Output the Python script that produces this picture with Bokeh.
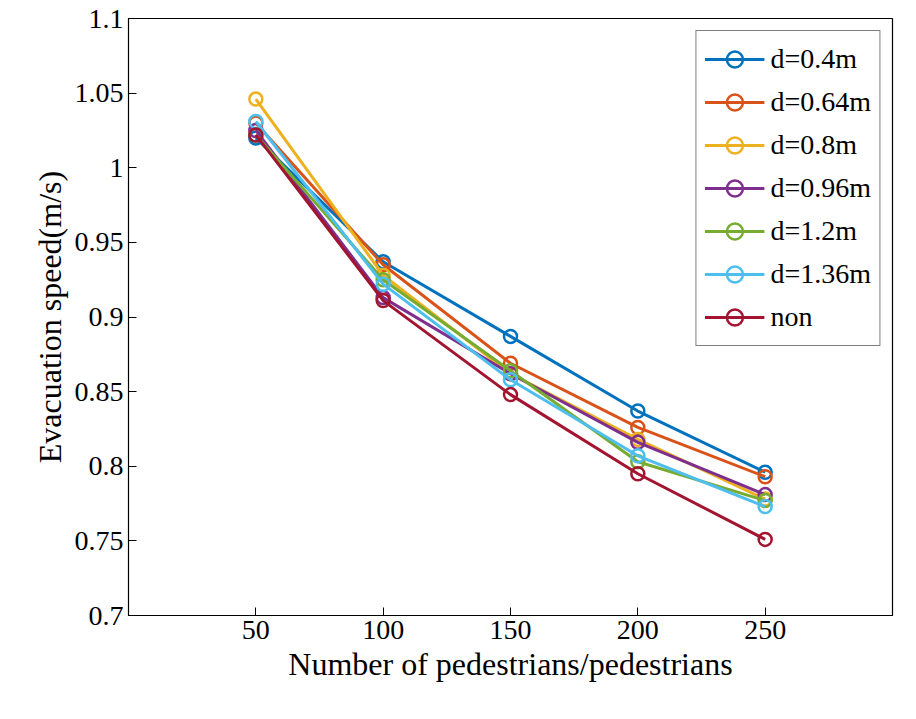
from bokeh.plotting import figure
from bokeh.embed import file_html
from bokeh.resources import INLINE
from bokeh.models import Range1d, FixedTicker, Legend, LegendItem

x = [50, 100, 150, 200, 250]
names = ["d=0.4m", "d=0.64m", "d=0.8m", "d=0.96m", "d=1.2m", "d=1.36m", "non"]
d04 = [1.020, 0.937, 0.887, 0.837, 0.796]
d064 = [1.030, 0.935, 0.869, 0.826, 0.793]
d08 = [1.046, 0.928, 0.862, 0.818, 0.778]
d096 = [1.025, 0.913, 0.862, 0.816, 0.781]
d12 = [1.022, 0.925, 0.864, 0.803, 0.777]
d136 = [1.031, 0.922, 0.858, 0.807, 0.773]
non = [1.022, 0.911, 0.848, 0.795, 0.751]
series = [d04, d064, d08, d096, d12, d136, non]
colors = ["#0072BD", "#D95319", "#EDB120", "#7E2F8E", "#77AC30", "#4DBEEE", "#A2142F"]

F = "Liberation Serif"
p = figure(width=900, height=703, output_backend="svg", toolbar_location=None,
           x_range=Range1d(0, 300), y_range=Range1d(0.7, 1.1),
           min_border_left=128, min_border_right=8, min_border_top=18, min_border_bottom=88)
p.grid.visible = False
p.outline_line_color = "black"
p.outline_line_width = 1.2
p.xaxis.ticker = FixedTicker(ticks=x)
p.yaxis.ticker = FixedTicker(ticks=[0.7, 0.75, 0.8, 0.85, 0.9, 0.95, 1.0, 1.05, 1.1])
p.yaxis.major_label_overrides = {1.0: "1", 0.7: "0.7", 0.8: "0.8", 0.9: "0.9", 1.1: "1.1"}
for ax in [p.xaxis[0], p.yaxis[0]]:
    ax.major_label_text_font = F
    ax.major_label_text_font_size = "21pt"
    ax.axis_label_text_font = F
    ax.axis_label_text_font_size = "24pt"
    ax.axis_label_text_font_style = "normal"
    ax.axis_label_text_color = "black"
    ax.major_tick_in = 8
    ax.major_tick_out = 0
    ax.minor_tick_line_color = None
    ax.axis_line_color = "black"
    ax.major_label_text_color = "black"
p.yaxis.axis_label_standoff = 4
p.xaxis.axis_label_standoff = 4
p.xaxis.axis_label = "Number of pedestrians/pedestrians"
p.yaxis.axis_label = "Evacuation speed(m/s)"

items = []
for n, s, c in zip(names, series, colors):
    l = p.line(x, s, line_color=c, line_width=3)
    m = p.scatter(x, s, size=13, fill_color=None, line_color=c, line_width=2.5)
    items.append(LegendItem(label=n, renderers=[l, m]))
leg = Legend(items=items, location="top_right", label_text_font=F, label_text_font_size="21pt",
             label_text_color="black", label_height=40, glyph_height=40,
             border_line_color="black", border_line_width=1, glyph_width=60, spacing=3,
             padding=8, margin=12, label_standoff=6)
p.add_layout(leg)

open("out.html", "w").write(file_html(p, INLINE))
